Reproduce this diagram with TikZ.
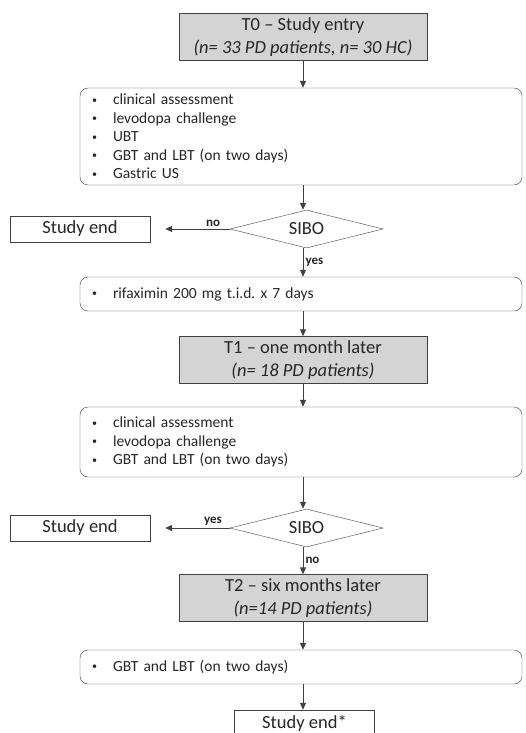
\documentclass[tikz,border=0pt]{standalone}
\usepackage{fontspec}
\setmainfont{Carlito}
\usetikzlibrary{shapes.geometric, arrows.meta, positioning, calc}
\newcommand{\bul}[1]{\makebox[21pt][l]{\fontsize{10}{10}\selectfont\raisebox{1.5pt}{\textbullet}}#1}
\tikzset{
  title_font/.style = {font=\fontsize{18.5}{23}\selectfont},
  list_font/.style = {font=\fontsize{15.5}{18.5}\selectfont},
  label_font/.style = {font=\fontsize{13}{14}\selectfont\bfseries},
  line_colour/.style = {draw=black!75},
  stage_background/.style = {fill=black!17}
}
\tikzset{
  stage/.style = {title_font, line_colour, stage_background, align=center, minimum width=248, minimum height=47, inner sep=0},
  block/.style = {list_font, line_colour, rounded corners=8, align=left, text width=418, inner xsep=12, minimum height=34},
  decision/.style = {title_font, line_colour, diamond, aspect=4, inner sep=0, minimum width=153, minimum height=38},
  finish/.style = {title_font, line_colour, minimum width=140, minimum height=26, inner sep=0},
  arrow/.style = {line_colour, line width=1, -{Triangle[length=7pt,width=6pt]}},
  answer/.style = {label_font, inner sep=2}
}
\begin{document}
\begin{tikzpicture}[x=1pt, y=-1pt, every node/.style={text=black!85}]
        \useasboundingbox[fill=white] (0,0) rectangle (526,733);

        % Time points
        \node[stage] at (303,37) (t0) {
            T0 -- Study entry \\
            \textit{(n= 33 PD patients, n= 30 HC)}};
        \node[stage] at (303,360) (t1) {
            T1 -- one month later \\
            \textit{(n= 18 PD patients)}};
        \node[stage] at (303,598) (t2) {
            T2 -- six months later \\
            \textit{(n=14 PD patients)}};

        % Examinations
        \node[block, minimum height=97] at (301,136.5) (exam_0) {
            \bul{clinical assessment} \\
            \bul{levodopa challenge} \\
            \bul{UBT} \\
            \bul{GBT and LBT (on two days)} \\
            \bul{Gastric US}};
        \node[block] at (301,294) (therapy) {
            \bul{rifaximin 200 mg t.i.d.\ x 7 days}};
        \node[block, minimum height=70] at (301,442) (exam_1) {
            \bul{clinical assessment} \\
            \bul{levodopa challenge} \\
            \bul{GBT and LBT (on two days)}};
        \node[block] at (301,667) (exam_2) {
            \bul{GBT and LBT (on two days)}};

        % Decisions and ends
        \node[decision] at (306.5,229) (sibo_0) {SIBO};
        \node[decision] at (306.5,528) (sibo_1) {SIBO};
        \node[finish] at (80,229) (end_0) {Study end};
        \node[finish] at (80,528) (end_1) {Study end};
        \node[finish] at (304.5,723) (end_2) {Study end*};

        % Arrows
        \draw[arrow] (t0.south -| 303,0) -- (exam_0.north -| 303,0);
        \draw[arrow] (exam_0.south -| 303,0) -- (sibo_0.north -| 303,0);
        \draw[arrow] (sibo_0.west) -- node[answer, above, pos=0.26] {no} ([xshift=15]end_0.east);
        \draw[arrow] (sibo_0.south -| 303,0) -- node[answer, right] {yes} (therapy.north -| 303,0);
        \draw[arrow] (therapy.south -| 303,0) -- (t1.north -| 303,0);
        \draw[arrow] (t1.south -| 303,0) -- (exam_1.north -| 303,0);
        \draw[arrow] (exam_1.south -| 303,0) -- (sibo_1.north -| 303,0);
        \draw[arrow] (sibo_1.west) -- node[answer, above, pos=0.26] {yes} ([xshift=15]end_1.east);
        \draw[arrow] (sibo_1.south -| 303,0) -- node[answer, right] {no} (t2.north -| 303,0);
        \draw[arrow] (t2.south -| 303,0) -- (exam_2.north -| 303,0);
        \draw[arrow] (exam_2.south -| 303,0) -- (end_2.north -| 303,0);
\end{tikzpicture}
\end{document}
